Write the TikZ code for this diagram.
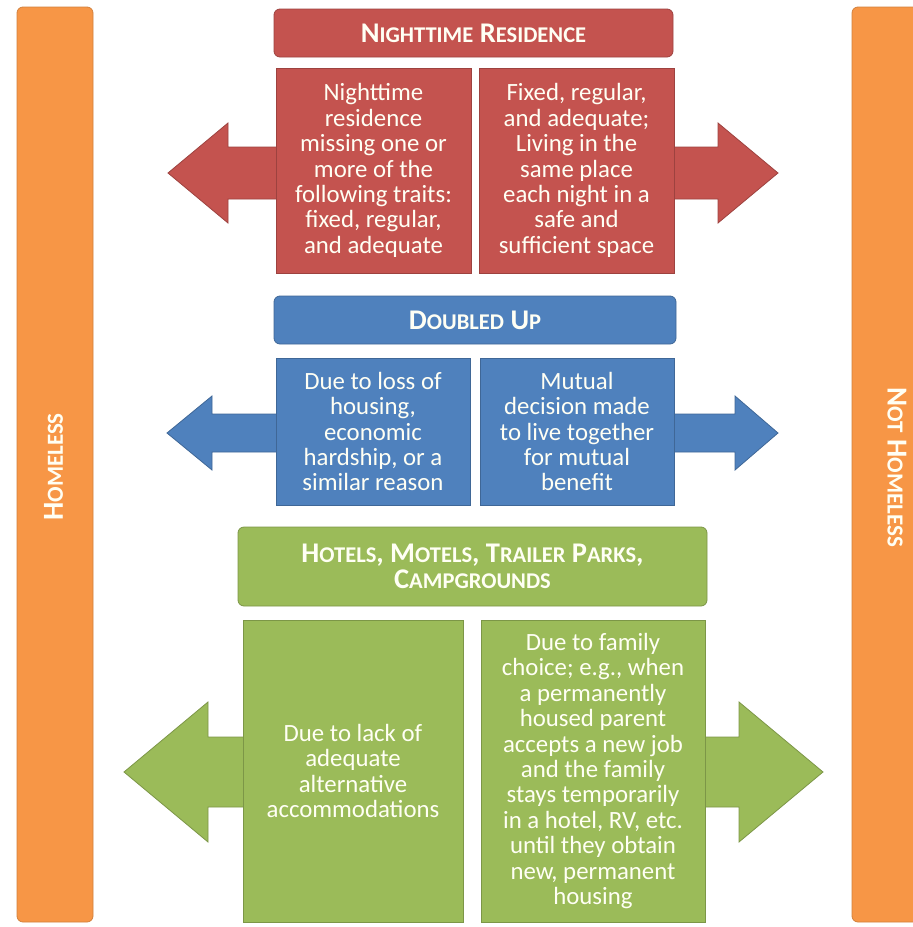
\documentclass[tikz,border=0pt]{standalone}
\usepackage{fontspec}
\setmainfont{Carlito}
\usepackage{xcolor}
\usetikzlibrary{positioning}
\definecolor{nightred}{HTML}{C4534F}
\definecolor{doubleblue}{HTML}{4F81BD}
\definecolor{hotelgreen}{HTML}{9BBB59}
\definecolor{sideorange}{HTML}{F79646}
\definecolor{textwhite}{HTML}{FFFFF4}
% fake small caps for the headers
\newcommand{\sm}[1]{{\fontsize{22.5}{22.5}\selectfont #1}}
\newcommand{\smb}[1]{{\fontsize{23}{23}\selectfont #1}}
\tikzset{
  headbox/.style={
    rectangle, rounded corners=6pt, fill=#1, draw=#1!80!black, line width=0.8pt,
    text=textwhite, align=center, inner sep=2pt,
    font=\fontsize{28.5}{26}\selectfont\bfseries
  },
  textbox/.style={
    rectangle, fill=#1, draw=#1!80!black, line width=0.8pt,
    text=textwhite, align=center, inner sep=2pt,
    font=\fontsize{24.8}{25.4}\selectfont
  },
  sidebar/.style={
    rectangle, rounded corners=6pt, fill=sideorange, draw=sideorange!85!black,
    line width=0.8pt, minimum width=76pt, minimum height=915pt
  },
  sidetext/.style={text=textwhite, font=\fontsize{29}{29}\selectfont\bfseries},
  blockarrow/.style={fill=#1, draw=#1!80!black, line width=0.8pt},
}

\begin{document}
\begin{tikzpicture}[x=1pt,y=-1pt]
  \useasboundingbox (0,0) rectangle (913,927);
  \clip (0,0) rectangle (913,927);

  % side bars
  \node[sidebar] (homeless) at (55,464.5) {};
  \node[sidebar] (nothomeless) at (890,464.5) {};
  \node[sidetext, rotate=90] (homelesstxt) at (53.5,467) {H\smb{OMELESS}};
  \node[sidetext, rotate=-90] (nothomelesstxt) at (897,467) {N\smb{OT} H\smb{OMELESS}};

  % block arrows: y / left box x / left back / left tip / right box x / right back / right tip / head / shaft / colour
  \foreach \y/\ml/\bl/\tl/\mr/\br/\tr/\h/\s/\c in {
      173/373/228/168/577/718/778/50/26/nightred,
      433/373/212/167/577/735/778/37/19/doubleblue,
      772/353/208/124/593/739/823/70/35/hotelgreen}{
    \path[blockarrow=\c] (\ml,\y-\s) -- (\bl,\y-\s) -- (\bl,\y-\h) -- (\tl,\y)
      -- (\bl,\y+\h) -- (\bl,\y+\s) -- (\ml,\y+\s) -- cycle;
    \path[blockarrow=\c] (\mr,\y-\s) -- (\br,\y-\s) -- (\br,\y-\h) -- (\tr,\y)
      -- (\br,\y+\h) -- (\br,\y+\s) -- (\mr,\y+\s) -- cycle;
  }

  % nighttime residence
  \node[headbox=nightred, minimum width=399pt, minimum height=48pt] (night) at (473.5,33)
    {N\sm{IGHTTIME} R\sm{ESIDENCE}};
  \node[textbox=nightred, minimum width=195pt, minimum height=205pt] (nightno) at (373.5,170.5)
    {Nighttime\\residence\\missing one or\\more of the\\following traits:\\fixed, regular,\\and adequate};
  \node[textbox=nightred, minimum width=195pt, minimum height=205pt] (nightyes) at (576.5,170.5)
    {Fixed, regular,\\and adequate;\\Living in the\\same place\\each night in a\\safe and\\sufficient space};

  % doubled up
  \node[headbox=doubleblue, minimum width=402pt, minimum height=48pt] (doubled) at (475,320)
    {D\sm{OUBLED} U\sm{P}};
  \node[textbox=doubleblue, minimum width=194pt, minimum height=147pt] (doubledno) at (373,431.5)
    {Due to loss of\\housing,\\economic\\hardship, or a\\similar reason};
  \node[textbox=doubleblue, minimum width=194pt, minimum height=147pt] (doubledyes) at (577,431.5)
    {Mutual\\decision made\\to live together\\for mutual\\benefit};

  % hotels, motels
  \node[headbox=hotelgreen, minimum width=469pt, minimum height=79pt] (hotels) at (472.5,566.5)
    {H\sm{OTELS}, M\sm{OTELS}, T\sm{RAILER} P\sm{ARKS},\\C\sm{AMPGROUNDS}};
  \node[textbox=hotelgreen, minimum width=220pt, minimum height=302pt] (hotelsno) at (353,771)
    {Due to lack of\\adequate\\alternative\\accommodations};
  \node[textbox=hotelgreen, minimum width=224pt, minimum height=302pt] (hotelsyes) at (593,771)
    {Due to family\\choice; e.g., when\\a permanently\\housed parent\\accepts a new job\\and the family\\stays temporarily\\in a hotel, RV, etc.\\until they obtain\\new, permanent\\housing};
\end{tikzpicture}
\end{document}
